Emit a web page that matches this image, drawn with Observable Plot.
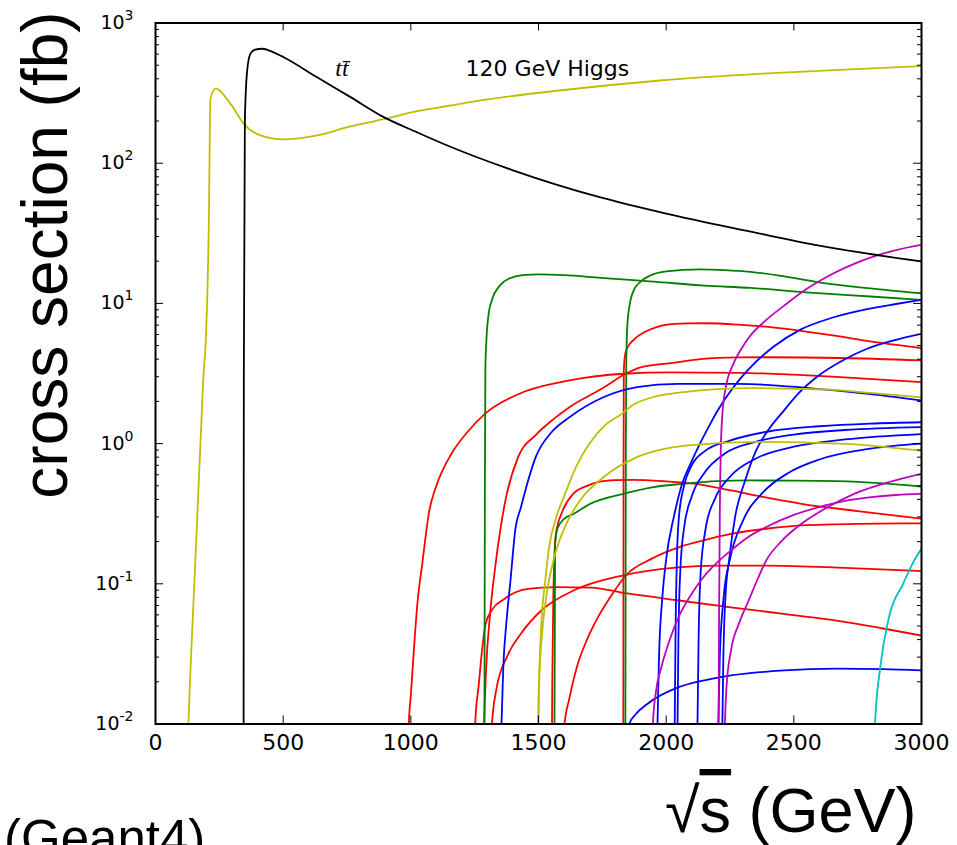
<!DOCTYPE html>
<html><head><meta charset="utf-8">
<script src="https://cdn.jsdelivr.net/npm/d3@7"></script>
<script src="https://cdn.jsdelivr.net/npm/@observablehq/plot@0.6"></script>
<style>html,body{margin:0;padding:0;background:#fff;overflow:hidden}</style>
</head><body><div id="chart"></div>
<script>
// ---- axis ticks ----
const xTicks = [0, 500, 1000, 1500, 2000, 2500, 3000];
const yTicks = [0.01, 0.1, 1, 10, 100, 1000];
const yExponents = ["-2", "-1", "0", "1", "2", "3"];
const yMinorMultipliers = [2, 3, 4, 5, 6, 7, 8, 9];

// ---- labels ----
const higgsLabel = ["120 GeV Higgs"];
const higgsLabelX = [1535];
const higgsLabelY = [473];
const ttLabel = ["tt\u0304"];
const ttLabelX = [730];
const ttLabelY = [473];

// ---- series: [sqrt(s) GeV, cross section fb] ----
const higgs = [[125,0.006],[129,0.01],[152,0.1],[176,1.0],[189,3.3],[196,5.0],[209,39],[215,288],[235,340],[294,265],[346,191],[411,158],[502,148],[633,158],[764,183],[894,206],[1025,235],[1155,258],[1300,285],[1580,330],[1977,389],[2377,435],[2700,465],[3000,492]];
const ttbar = [[345,0.005],[345.5,0.5],[346,3.3],[350,202],[359,458],[372,605],[390,645],[418,655],[460,620],[502,570],[633,410],[764,296],[894,213],[1025,166],[1155,131],[1400,89],[1743,57],[2000,43.7],[2331,32.5],[2600,25.8],[3000,19.9]];

const green1 = [[1288,0.005],[1290,0.5],[1292,3.5],[1296,5.5],[1305,8.5],[1317,10.5],[1350,13.5],[1383,15],[1450,16],[1500,16.1],[1600,15.9],[1743,15.2],[1950,14.3],[2151,13.4],[2331,12.9],[2548,12.0],[2800,11.2],[3000,10.6]];
const green2 = [[1840,0.005],[1842,1],[1844,4],[1848,7],[1856,9.5],[1873,12.4],[1900,14.3],[1938,15.8],[2000,16.9],[2134,17.5],[2230,17.3],[2330,16.8],[2450,15.7],[2591,14.2],[2800,12.8],[3000,11.8]];
const green3 = [[1562,0.005],[1564,0.05],[1565,0.19],[1575,0.25],[1600,0.29],[1637,0.315],[1700,0.37],[1843,0.443],[1950,0.49],[2062,0.516],[2200,0.54],[2323,0.546],[2500,0.545],[2667,0.54],[2850,0.52],[3000,0.494]];

const redA = [[991,0.008],[992,0.01],[1000,0.016],[1010,0.03],[1025,0.07],[1045,0.14],[1072,0.33],[1100,0.5],[1158,0.84],[1220,1.2],[1290,1.63],[1423,2.26],[1621,2.82],[1833,3.15],[2019,3.22],[2283,3.2],[2500,3.1],[2681,2.98],[3000,2.74]];
const redB = [[1285,0.007],[1287,0.01],[1295,0.025],[1310,0.06],[1330,0.13],[1350,0.24],[1370,0.39],[1420,0.8],[1489,1.15],[1560,1.5],[1621,1.82],[1754,2.5],[1834,3.1],[1900,3.5],[2019,3.75],[2134,4.0],[2283,4.12],[2400,4.13],[2681,4.08],[3000,3.92]];
const redE = [[1316,0.008],[1318,0.01],[1334,0.0173],[1376,0.030],[1431,0.044],[1513,0.065],[1637,0.0895],[1829,0.1146],[2049,0.131],[2200,0.135],[2393,0.135],[2700,0.13],[3000,0.123]];
const redF = [[1250,0.007],[1252,0.01],[1266,0.019],[1280,0.035],[1293,0.052],[1320,0.066],[1362,0.077],[1410,0.087],[1458,0.092],[1568,0.0946],[1705,0.094],[1842,0.0857],[2050,0.076],[2254,0.068],[2460,0.061],[2667,0.0547],[2850,0.048],[3000,0.0427]];
const redD = [[1552,0.006],[1554,0.02],[1558,0.08],[1562,0.15],[1568,0.227],[1595,0.333],[1637,0.44],[1690,0.5],[1733,0.531],[1800,0.548],[1870,0.552],[1990,0.54],[2117,0.516],[2254,0.463],[2400,0.41],[2530,0.372],[2750,0.33],[3000,0.291]];
const redG = [[1600,0.008],[1602,0.01],[1620,0.015],[1650,0.0254],[1690,0.04],[1733,0.0578],[1790,0.085],[1842,0.1146],[1940,0.15],[2049,0.182],[2150,0.205],[2254,0.227],[2400,0.248],[2530,0.261],[2750,0.268],[3000,0.270]];
const redR1 = [[1832,0.005],[1833,0.5],[1834,3.3],[1840,4.4],[1850,4.9],[1873,5.5],[1920,6.3],[1966,6.8],[2004,7.06],[2080,7.2],[2151,7.22],[2283,7.06],[2400,6.8],[2548,6.3],[2660,5.9],[2787,5.4],[3000,4.8]];

const blueB1 = [[1353,0.007],[1355,0.01],[1362,0.025],[1375,0.055],[1389,0.1],[1410,0.25],[1431,0.35],[1460,0.55],[1489,0.8],[1550,1.2],[1621,1.54],[1754,2.14],[1886,2.53],[2045,2.67],[2283,2.67],[2548,2.5],[2800,2.25],[3000,2.03]];
const blueB2 = [[1850,0.009],[1858,0.0102],[1880,0.0117],[1926,0.0139],[2049,0.0183],[2150,0.0205],[2254,0.0222],[2461,0.0241],[2667,0.0248],[2850,0.0246],[3000,0.0241]];
const blueU1 = [[1964,0.007],[1966,0.01],[1972,0.03],[1985,0.08],[2000,0.15],[2030,0.3],[2060,0.5],[2100,0.75],[2130,0.98],[2165,1.3],[2200,1.7],[2240,2.2],[2283,2.8],[2330,3.5],[2420,4.9],[2526,6.5],[2650,7.9],[2787,9.1],[2900,9.9],[3000,10.6]];
const blueU2 = [[2218,0.007],[2220,0.01],[2224,0.03],[2232,0.08],[2247,0.15],[2270,0.3],[2310,0.55],[2352,0.89],[2400,1.25],[2461,1.72],[2520,2.3],[2591,3.0],[2700,4.0],[2787,4.75],[2900,5.5],[3000,6.07]];
const blueL1 = [[2033,0.008],[2037,0.05],[2042,0.15],[2050,0.3],[2070,0.5],[2100,0.7],[2150,0.88],[2250,1.05],[2400,1.22],[2600,1.33],[2800,1.39],[3000,1.42]];
const blueL2 = [[2044,0.008],[2048,0.04],[2055,0.12],[2070,0.25],[2100,0.42],[2150,0.62],[2230,0.85],[2350,1.03],[2500,1.16],[2700,1.25],[3000,1.31]];
const blueL3 = [[2122,0.008],[2127,0.04],[2135,0.12],[2155,0.25],[2190,0.4],[2250,0.58],[2350,0.78],[2500,0.95],[2700,1.07],[3000,1.17]];
const blueL4 = [[2203,0.008],[2210,0.03],[2225,0.08],[2250,0.15],[2300,0.28],[2380,0.45],[2480,0.62],[2600,0.77],[2800,0.92],[3000,1.0]];

const magM1 = [[2205,0.006],[2207,0.05],[2210,0.3],[2214,0.9],[2220,1.6],[2235,2.6],[2260,3.6],[2290,4.6],[2330,5.9],[2380,7.3],[2461,9.6],[2548,12.6],[2650,16.2],[2750,19.6],[2826,22],[2900,24],[3000,26.2]];
const magM2 = [[1946,0.007],[1948,0.01],[1960,0.017],[1980,0.025],[2010,0.038],[2049,0.058],[2100,0.085],[2145,0.111],[2200,0.142],[2254,0.173],[2320,0.215],[2392,0.254],[2500,0.31],[2598,0.352],[2700,0.39],[2804,0.415],[2900,0.43],[3000,0.438]];
const magM3 = [[2228,0.007],[2230,0.01],[2236,0.018],[2254,0.0335],[2285,0.052],[2323,0.076],[2360,0.11],[2392,0.147],[2450,0.2],[2530,0.268],[2630,0.35],[2736,0.438],[2870,0.53],[3000,0.61]];

const yellow1 = [[1497,0.008],[1500,0.015],[1505,0.03],[1513,0.06],[1525,0.1],[1541,0.18],[1570,0.3],[1600,0.42],[1650,0.7],[1700,1.0],[1760,1.35],[1820,1.6],[1873,1.9],[1950,2.15],[2069,2.33],[2200,2.45],[2330,2.49],[2500,2.46],[2656,2.42],[2800,2.3],[3000,2.14]];
const yellow2 = [[1499,0.008],[1503,0.02],[1512,0.04],[1530,0.08],[1560,0.15],[1610,0.27],[1661,0.39],[1754,0.575],[1886,0.8],[2085,0.97],[2349,1.03],[2681,1.0],[3000,0.89]];

const cyan1 = [[2815,0.007],[2818,0.01],[2838,0.025],[2873,0.058],[2928,0.1],[2970,0.145],[3008,0.187]];

// ---- colours (matplotlib classic) ----
const C = {k:"#000000", g:"#008000", r:"#ff0000", b:"#0000ff", m:"#bf00bf", y:"#bfbf00", c:"#00bfbf"};

const series = [
  [redA, C.r], [redB, C.r], [redE, C.r], [redF, C.r], [redD, C.r], [redG, C.r], [redR1, C.r],
  [green1, C.g], [green2, C.g], [green3, C.g],
  [blueB1, C.b], [blueB2, C.b], [blueU1, C.b], [blueU2, C.b], [blueL1, C.b], [blueL2, C.b], [blueL3, C.b], [blueL4, C.b],
  [magM1, C.m], [magM2, C.m], [magM3, C.m],
  [yellow1, C.y], [yellow2, C.y], [cyan1, C.c],
  [higgs, C.y], [ttbar, C.k]
];

const W = 957, H = 845;
const mL = 155, mR = 36, mT = 22.5, mB = 121.5;
const fw = W - mL - mR, fh = H - mT - mB;

const yMinor = [];
for (const t of yTicks.slice(0, -1)) for (const m of yMinorMultipliers) yMinor.push(t * m);

const chart = Plot.plot({
  width: W, height: H,
  marginLeft: mL, marginRight: mR, marginTop: mT, marginBottom: mB,
  style: {fontFamily: "DejaVu Sans", background: "white", color: "black"},
  x: {domain: [0, 3000]},
  y: {type: "log", domain: [0.01, 1000]},
  marks: [
    ...series.map(([pts, col]) => Plot.line(pts, {x: d => d[0], y: d => d[1], stroke: col, strokeWidth: 1.8, curve: "monotone-x", clip: true})),
    Plot.text(higgsLabel, {x: higgsLabelX, y: higgsLabelY, text: d => d, fontSize: 22, fontFamily: "DejaVu Sans", fill: "black"}),
    Plot.text(ttLabel, {x: ttLabelX, y: ttLabelY, text: d => d, fontSize: 24, fontStyle: "italic", fontFamily: "Liberation Serif", fill: "black"}),
    // inward ticks
    Plot.tickY(yTicks, {y: d => d, insetRight: fw - 8, stroke: "black"}),
    Plot.tickY(yTicks, {y: d => d, insetLeft: fw - 8, stroke: "black"}),
    Plot.tickY(yMinor, {y: d => d, insetRight: fw - 4, stroke: "black"}),
    Plot.tickY(yMinor, {y: d => d, insetLeft: fw - 4, stroke: "black"}),
    Plot.tickX(xTicks, {x: d => d, insetTop: fh - 8, stroke: "black"}),
    Plot.tickX(xTicks, {x: d => d, insetBottom: fh - 8, stroke: "black"}),
    Plot.axisX({ticks: xTicks, tickSize: 0, tickPadding: 10, fontSize: 22, label: null, tickFormat: d => String(d)}),
    Plot.axisY({ticks: yTicks, tickSize: 0, tickPadding: 22, fontSize: 19, label: null, tickFormat: d => "10"}),
    Plot.frame({stroke: "black", strokeWidth: 2})
  ]
});
document.getElementById("chart").appendChild(chart);

// superscript exponents on y tick labels
const svg = d3.select(chart);
svg.selectAll('g[aria-label="y-axis tick label"] text').each(function(_, i) {
  d3.select(this).append("tspan").attr("dy", "-9").attr("font-size", 14).text(yExponents[i]);
});

// axis titles
const font = "Liberation Sans, Arial, Helvetica, sans-serif";
svg.append("text")
  .attr("transform", "translate(67,255) rotate(-90)")
  .attr("text-anchor", "middle").attr("font-family", font).attr("font-size", 64)
  .attr("fill", "black").text("cross section (fb)");
const xl = svg.append("text").attr("x", 665).attr("y", 832).attr("text-anchor", "start")
  .attr("font-family", font).attr("font-size", 63).attr("fill", "black");
xl.append("tspan").text("\u221A");
xl.append("tspan").attr("text-decoration", "overline").style("text-decoration", "overline").text("s");
xl.append("tspan").text(" (GeV)");
svg.append("text").attr("x", 4).attr("y", 856).attr("text-anchor", "start")
  .attr("font-family", font).attr("font-size", 51).attr("fill", "black").text("(Geant4)");
</script>
</body></html>
